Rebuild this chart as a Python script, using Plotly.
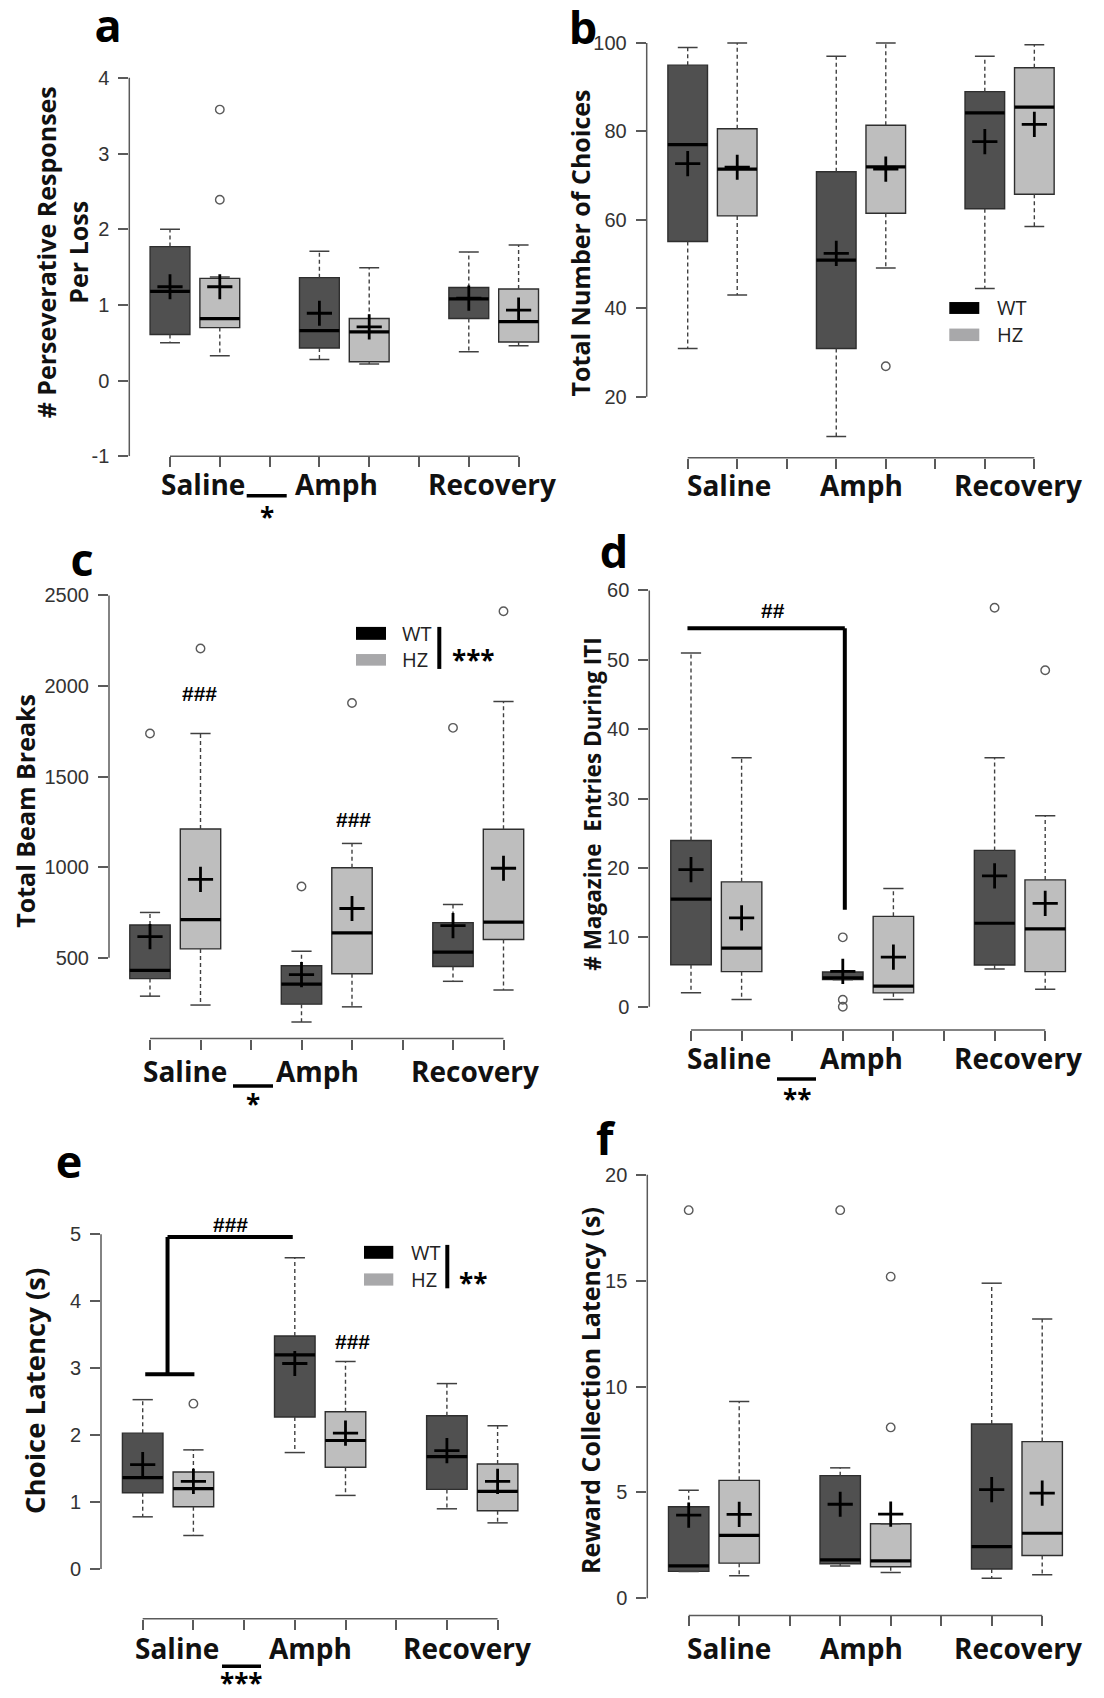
import plotly.graph_objects as go

W, H = 1104, 1698

CONDITIONS = ["Saline", "Amph", "Recovery"]
WT_POS = [1, 4, 7]
HZ_POS = [2, 5, 8]
AXIS_TICKS = [1, 2, 3, 4, 5, 6, 7, 8]

# ---- (a) perseverative responses per loss ----
A_WT_Q1 = [0.61, 0.43, 0.82]
A_WT_MED = [1.18, 0.66, 1.08]
A_WT_Q3 = [1.77, 1.36, 1.23]
A_WT_LO = [0.50, 0.28, 0.38]
A_WT_HI = [2.00, 1.71, 1.70]
A_WT_MEAN = [1.24, 0.89, 1.09]
A_WT_OUT = [[], [], []]
A_HZ_Q1 = [0.70, 0.25, 0.51]
A_HZ_MED = [0.82, 0.645, 0.78]
A_HZ_Q3 = [1.35, 0.82, 1.21]
A_HZ_LO = [0.33, 0.22, 0.46]
A_HZ_HI = [1.37, 1.49, 1.79]
A_HZ_MEAN = [1.24, 0.71, 0.93]
A_HZ_OUT = [[3.58, 2.39], [], []]
A_YTICKS = [-1, 0, 1, 2, 3, 4]

# ---- (b) total number of choices ----
B_WT_Q1 = [55.1, 30.9, 62.5]
B_WT_MED = [77.0, 50.9, 84.2]
B_WT_Q3 = [95.0, 70.9, 89.0]
B_WT_LO = [30.9, 11.0, 44.5]
B_WT_HI = [99.0, 97.0, 97.0]
B_WT_MEAN = [72.7, 52.4, 77.7]
B_WT_OUT = [[], [], []]
B_HZ_Q1 = [60.9, 61.5, 65.8]
B_HZ_MED = [71.5, 72.0, 85.5]
B_HZ_Q3 = [80.6, 81.4, 94.4]
B_HZ_LO = [43.0, 49.1, 58.5]
B_HZ_HI = [100.0, 100.0, 99.6]
B_HZ_MEAN = [71.9, 71.5, 81.6]
B_HZ_OUT = [[], [26.9], []]
B_YTICKS = [20, 40, 60, 80, 100]

# ---- (c) total beam breaks ----
C_WT_Q1 = [385, 244, 452]
C_WT_MED = [430, 354, 531]
C_WT_Q3 = [681, 456, 694]
C_WT_LO = [288, 146, 370]
C_WT_HI = [750, 536, 794]
C_WT_MEAN = [617, 407, 677]
C_WT_OUT = [[1738], [893], [1769]]
C_HZ_Q1 = [549, 412, 601]
C_HZ_MED = [710, 637, 697]
C_HZ_Q3 = [1211, 997, 1209]
C_HZ_LO = [239, 229, 322]
C_HZ_HI = [1738, 1131, 1914]
C_HZ_MEAN = [933, 772, 994]
C_HZ_OUT = [[2207], [1906], [2413]]
C_YTICKS = [500, 1000, 1500, 2000, 2500]

# ---- (d) magazine entries during ITI ----
D_WT_Q1 = [6.06, 3.9, 6.01]
D_WT_MED = [15.5, 4.15, 12.03]
D_WT_Q3 = [23.96, 5.0, 22.53]
D_WT_LO = [2.0, 3.9, 5.44]
D_WT_HI = [50.98, 5.0, 35.9]
D_WT_MEAN = [19.76, 5.1, 18.85]
D_WT_OUT = [[], [10.0, 1.0, 0.0], [57.5]]
D_HZ_Q1 = [5.06, 2.0, 5.06]
D_HZ_MED = [8.45, 2.96, 11.22]
D_HZ_Q3 = [18.0, 13.03, 18.28]
D_HZ_LO = [1.05, 1.05, 2.53]
D_HZ_HI = [35.9, 17.04, 27.54]
D_HZ_MEAN = [12.8, 7.16, 14.9]
D_HZ_OUT = [[], [], [48.5]]
D_YTICKS = [0, 10, 20, 30, 40, 50, 60]

# ---- (e) choice latency ----
E_WT_Q1 = [1.14, 2.27, 1.19]
E_WT_MED = [1.365, 3.20, 1.68]
E_WT_Q3 = [2.03, 3.48, 2.29]
E_WT_LO = [0.78, 1.74, 0.90]
E_WT_HI = [2.53, 4.65, 2.77]
E_WT_MEAN = [1.56, 3.07, 1.77]
E_WT_OUT = [[], [], []]
E_HZ_Q1 = [0.93, 1.52, 0.87]
E_HZ_MED = [1.20, 1.92, 1.16]
E_HZ_Q3 = [1.45, 2.35, 1.57]
E_HZ_LO = [0.50, 1.10, 0.69]
E_HZ_HI = [1.78, 3.10, 2.14]
E_HZ_MEAN = [1.31, 2.03, 1.31]
E_HZ_OUT = [[2.47], [], []]
E_YTICKS = [0, 1, 2, 3, 4, 5]

# ---- (f) reward collection latency ----
F_WT_Q1 = [1.27, 1.63, 1.38]
F_WT_MED = [1.53, 1.81, 2.44]
F_WT_Q3 = [4.32, 5.79, 8.23]
F_WT_LO = [1.27, 1.53, 0.95]
F_WT_HI = [5.10, 6.16, 14.88]
F_WT_MEAN = [3.93, 4.44, 5.13]
F_WT_OUT = [[18.33], [18.33], []]
F_HZ_Q1 = [1.66, 1.49, 2.02]
F_HZ_MED = [2.97, 1.77, 3.07]
F_HZ_Q3 = [5.57, 3.52, 7.40]
F_HZ_LO = [1.06, 1.22, 1.11]
F_HZ_HI = [9.29, 3.52, 13.19]
F_HZ_MEAN = [3.96, 3.97, 4.97]
F_HZ_OUT = [[], [15.19, 8.07], []]
F_YTICKS = [0, 5, 10, 15, 20]

# ---- styling ----
WT_FILL = "#505050"
HZ_FILL = "#bebebe"
EDGE = "#2e2e2e"
AXIS_COLOR = "#5a5a5a"
WHISKER_COLOR = "#404040"
OUTLIER_COLOR = "#5a5a5a"
BOX_W = 0.8
CAP_W = 0.4
TEXT_FONT = "Open Sans"
TICK_FONT = "Liberation Sans"


def stats(q1, med, q3, lo, hi, mean, out):
    return dict(q1=q1, med=med, q3=q3, lo=lo, hi=hi, mean=mean, out=out)


# pixel geometry of each panel: first tick x, px per slot, two y reference ticks,
# y-axis x position, x-axis y position, top of plot area
PANELS = [
    dict(letter="a", letter_xy=(108, 24),
         title="# Perseverative Responses<br>Per Loss", title_xy=(62, 254), title_size=25,
         wt=stats(A_WT_Q1, A_WT_MED, A_WT_Q3, A_WT_LO, A_WT_HI, A_WT_MEAN, A_WT_OUT),
         hz=stats(A_HZ_Q1, A_HZ_MED, A_HZ_Q3, A_HZ_LO, A_HZ_HI, A_HZ_MEAN, A_HZ_OUT),
         yticks=A_YTICKS,
         x1=170, dx=49.8, ref_a=(4, 78.3), ref_b=(-1, 459.3), yaxis_px=129.3, xaxis_px=459.3, top_px=55,
         labels_x=(203, 336, 492), labels_y=487.5),
    dict(letter="b", letter_xy=(583, 26),
         title="Total Number of Choices", title_xy=(580, 245), title_size=25,
         wt=stats(B_WT_Q1, B_WT_MED, B_WT_Q3, B_WT_LO, B_WT_HI, B_WT_MEAN, B_WT_OUT),
         hz=stats(B_HZ_Q1, B_HZ_MED, B_HZ_Q3, B_HZ_LO, B_HZ_HI, B_HZ_MEAN, B_HZ_OUT),
         yticks=B_YTICKS,
         x1=687.7, dx=49.52, ref_a=(100, 43.3), ref_b=(20, 399.3), yaxis_px=646.7, xaxis_px=460.7, top_px=30,
         labels_x=(729, 861, 1018), labels_y=488.6),
    dict(letter="c", letter_xy=(82, 562),
         title="Total Beam Breaks", title_xy=(25, 816), title_size=25,
         wt=stats(C_WT_Q1, C_WT_MED, C_WT_Q3, C_WT_LO, C_WT_HI, C_WT_MEAN, C_WT_OUT),
         hz=stats(C_HZ_Q1, C_HZ_MED, C_HZ_Q3, C_HZ_LO, C_HZ_HI, C_HZ_MEAN, C_HZ_OUT),
         yticks=C_YTICKS,
         x1=150, dx=50.5, ref_a=(2500, 599.3), ref_b=(500, 964), yaxis_px=109, xaxis_px=1045.3, top_px=585,
         labels_x=(185, 317.5, 474.5), labels_y=1078),
    dict(letter="d", letter_xy=(614, 554),
         title="# Magazine\u00a0\u00a0Entries During ITI", title_xy=(593, 810), title_size=22.5,
         wt=stats(D_WT_Q1, D_WT_MED, D_WT_Q3, D_WT_LO, D_WT_HI, D_WT_MEAN, D_WT_OUT),
         hz=stats(D_HZ_Q1, D_HZ_MED, D_HZ_Q3, D_HZ_LO, D_HZ_HI, D_HZ_MEAN, D_HZ_OUT),
         yticks=D_YTICKS,
         x1=691, dx=50.6, ref_a=(60, 594.3), ref_b=(0, 1013.3), yaxis_px=649.3, xaxis_px=1036.6, top_px=580,
         labels_x=(729, 861, 1018), labels_y=1065),
    dict(letter="e", letter_xy=(69, 1168),
         title="Choice Latency (s)", title_xy=(35, 1400), title_size=27.5,
         wt=stats(E_WT_Q1, E_WT_MED, E_WT_Q3, E_WT_LO, E_WT_HI, E_WT_MEAN, E_WT_OUT),
         hz=stats(E_HZ_Q1, E_HZ_MED, E_HZ_Q3, E_HZ_LO, E_HZ_HI, E_HZ_MEAN, E_HZ_OUT),
         yticks=E_YTICKS,
         x1=142.7, dx=50.7, ref_a=(5, 1242.3), ref_b=(0, 1579.3), yaxis_px=101, xaxis_px=1629.3, top_px=1225,
         labels_x=(176.5, 310, 467), labels_y=1659),
    dict(letter="f", letter_xy=(606, 1144),
         title="Reward Collection Latency (s)", title_xy=(590, 1400), title_size=25,
         wt=stats(F_WT_Q1, F_WT_MED, F_WT_Q3, F_WT_LO, F_WT_HI, F_WT_MEAN, F_WT_OUT),
         hz=stats(F_HZ_Q1, F_HZ_MED, F_HZ_Q3, F_HZ_LO, F_HZ_HI, F_HZ_MEAN, F_HZ_OUT),
         yticks=F_YTICKS,
         x1=688.7, dx=50.5, ref_a=(15, 1289), ref_b=(0, 1608.7), yaxis_px=647.3, xaxis_px=1626, top_px=1170,
         labels_x=(729, 861, 1018), labels_y=1659),
]


def px_x(px):
    return px / W


def px_y(py):
    return 1 - py / H


def box_group(pos, s, fill, xa, ya):
    """Box, dashed whiskers, caps, median bar, mean cross and outliers for one genotype."""
    traces = [go.Box(
        x=pos, q1=s["q1"], median=s["med"], q3=s["q3"],
        lowerfence=s["q1"], upperfence=s["q3"], orientation="v",
        width=BOX_W, fillcolor=fill, line=dict(color=EDGE, width=1.4),
        whiskerwidth=0, boxpoints=False, hoverinfo="skip", showlegend=False,
        xaxis=xa, yaxis=ya)]
    wx, wy, cx, cy, mx, my = [], [], [], [], [], []
    for p, q1, q3, lo, hi, md in zip(pos, s["q1"], s["q3"], s["lo"], s["hi"], s["med"]):
        wx += [p, p, None, p, p, None]
        wy += [q3, hi, None, q1, lo, None]
        cx += [p - CAP_W / 2, p + CAP_W / 2, None, p - CAP_W / 2, p + CAP_W / 2, None]
        cy += [hi, hi, None, lo, lo, None]
        mx += [p - BOX_W / 2, p + BOX_W / 2, None]
        my += [md, md, None]
    traces.append(go.Scatter(x=wx, y=wy, mode="lines", xaxis=xa, yaxis=ya,
                             line=dict(color=WHISKER_COLOR, width=1.4, dash="4px,3px"),
                             hoverinfo="skip", showlegend=False))
    traces.append(go.Scatter(x=cx, y=cy, mode="lines", xaxis=xa, yaxis=ya,
                             line=dict(color=WHISKER_COLOR, width=1.5),
                             hoverinfo="skip", showlegend=False))
    traces.append(go.Scatter(x=mx, y=my, mode="lines", xaxis=xa, yaxis=ya,
                             line=dict(color="black", width=3.2),
                             hoverinfo="skip", showlegend=False))
    traces.append(go.Scatter(x=pos, y=s["mean"], mode="markers", xaxis=xa, yaxis=ya,
                             marker=dict(symbol="cross-thin", size=18, color="black",
                                         line=dict(color="black", width=2.8)),
                             hoverinfo="skip", showlegend=False))
    ox, oy = [], []
    for p, vals in zip(pos, s["out"]):
        ox += [p] * len(vals)
        oy += vals
    if ox:
        traces.append(go.Scatter(x=ox, y=oy, mode="markers", xaxis=xa, yaxis=ya,
                                 marker=dict(symbol="circle-open", size=8.5, color=OUTLIER_COLOR,
                                             line=dict(color=OUTLIER_COLOR, width=1.4)),
                                 hoverinfo="skip", showlegend=False, cliponaxis=False))
    return traces


fig = go.Figure()
shapes, annotations = [], []
axes_layout = {}

for i, p in enumerate(PANELS, start=1):
    xa = "x" if i == 1 else f"x{i}"
    ya = "y" if i == 1 else f"y{i}"
    (va, pa), (vb, pb) = p["ref_a"], p["ref_b"]
    dy = (pb - pa) / (va - vb)
    right_px = p["x1"] + 7.7 * p["dx"]
    x_lo = 1 + (p["yaxis_px"] - p["x1"]) / p["dx"]
    x_hi = 1 + (right_px - p["x1"]) / p["dx"]
    y_lo = vb - (p["xaxis_px"] - pb) / dy
    y_hi = va + (pa - p["top_px"]) / dy

    axes_layout["xaxis" if i == 1 else f"xaxis{i}"] = dict(
        domain=[px_x(p["yaxis_px"]), px_x(right_px)], range=[x_lo, x_hi], anchor=ya,
        tickvals=AXIS_TICKS, showticklabels=False, ticks="outside", ticklen=10,
        tickwidth=1.5, tickcolor=AXIS_COLOR, showgrid=False, zeroline=False,
        showline=False, fixedrange=True)
    axes_layout["yaxis" if i == 1 else f"yaxis{i}"] = dict(
        domain=[px_y(p["xaxis_px"]), px_y(p["top_px"])], range=[y_lo, y_hi], anchor=xa,
        tickvals=p["yticks"], ticktext=[str(v) for v in p["yticks"]],
        ticks="outside", ticklen=10, tickwidth=1.5, tickcolor=AXIS_COLOR,
        tickfont=dict(family=TICK_FONT, size=20, color="#333333"), ticklabelstandoff=5,
        showgrid=False, zeroline=False, showline=False, fixedrange=True)

    # R-style axis lines spanning only the tick range
    shapes.append(dict(type="line", xref=f"{xa} domain", x0=0, x1=0, yref=ya,
                       y0=min(p["yticks"]), y1=max(p["yticks"]),
                       line=dict(color=AXIS_COLOR, width=1.5)))
    shapes.append(dict(type="line", xref=xa, x0=AXIS_TICKS[0], x1=AXIS_TICKS[-1],
                       yref=f"{ya} domain", y0=0, y1=0,
                       line=dict(color=AXIS_COLOR, width=1.5)))

    for tr in box_group(WT_POS, p["wt"], WT_FILL, xa, ya):
        fig.add_trace(tr)
    for tr in box_group(HZ_POS, p["hz"], HZ_FILL, xa, ya):
        fig.add_trace(tr)

    # panel letter, axis title and condition labels
    lx, ly = p["letter_xy"]
    annotations.append(dict(text=f"<b>{p['letter']}</b>", x=px_x(lx), y=px_y(ly), xref="paper", yref="paper",
                            xanchor="center", yanchor="middle", showarrow=False, height=40, width=30,
                            font=dict(family=TEXT_FONT, size=45, color="black")))
    tx, ty = p["title_xy"]
    annotations.append(dict(text=p["title"], x=px_x(tx), y=px_y(ty), xref="paper", yref="paper",
                            xanchor="center", yanchor="middle", showarrow=False, textangle=-90,
                            font=dict(family=TEXT_FONT, size=p["title_size"], color="#111111", weight=700)))
    for name, cx in zip(CONDITIONS, p["labels_x"]):
        annotations.append(dict(text=name, x=px_x(cx), y=px_y(p["labels_y"]), xref="paper", yref="paper",
                                xanchor="center", yanchor="middle", showarrow=False,
                                font=dict(family=TEXT_FONT, size=28, color="#111111", weight=700)))

# main drug effect between Saline and Amph: bar with stars beneath
DRUG_EFFECT = [  # (x from, x to, bar y, stars, stars y)
    (246.7, 286.7, 499, "*", 520),
    (233, 273, 1093, "*", 1111),
    (777, 816, 1086, "**", 1106),
    (222, 261, 1677, "***", 1694),
]
for x0, x1, yb, stars, ys in DRUG_EFFECT:
    shapes.append(dict(type="line", xref="paper", yref="paper", x0=px_x(x0), x1=px_x(x1),
                       y0=px_y(yb), y1=px_y(yb), line=dict(color="black", width=3.5)))
    annotations.append(dict(text=stars, x=px_x((x0 + x1) / 2), y=px_y(ys), xref="paper", yref="paper",
                            xanchor="center", yanchor="middle", showarrow=False,
                            font=dict(family=TEXT_FONT, size=26, color="black", weight=700)))

# legends (WT / HZ swatches) in panels b, c, e
LEGENDS = [  # swatch x0, x1, WT y0, y1, HZ y0, y1, text x, genotype marker (bar x, y0, y1, stars, stars x, y)
    (949.3, 979.3, 304, 316, 330.7, 343.3, 995, None),
    (356, 386, 631, 644, 658.3, 670, 400.5, (439.3, 631, 673.3, "***", 473, 664)),
    (364, 393.3, 1254, 1267, 1281.7, 1294, 408.5, (447.3, 1253, 1296.7, "**", 472.5, 1291)),
]
for sx0, sx1, wy0, wy1, hy0, hy1, tx, gmark in LEGENDS:
    shapes.append(dict(type="rect", xref="paper", yref="paper", x0=px_x(sx0), x1=px_x(sx1),
                       y0=px_y(wy1), y1=px_y(wy0), fillcolor="black", line=dict(width=0)))
    shapes.append(dict(type="rect", xref="paper", yref="paper", x0=px_x(sx0), x1=px_x(sx1),
                       y0=px_y(hy1), y1=px_y(hy0), fillcolor="#a8a8aa", line=dict(width=0)))
    for label, y0, y1 in (("WT", wy0, wy1), ("HZ", hy0, hy1)):
        annotations.append(dict(text=label, x=px_x(tx), y=px_y((y0 + y1) / 2), xref="paper", yref="paper",
                                xanchor="left", yanchor="middle", showarrow=False,
                                font=dict(family=TEXT_FONT, size=20, color="#222222")))
    if gmark:
        bx, by0, by1, stars, stx, sty = gmark
        shapes.append(dict(type="line", xref="paper", yref="paper", x0=px_x(bx), x1=px_x(bx),
                           y0=px_y(by0), y1=px_y(by1), line=dict(color="black", width=4)))
        annotations.append(dict(text=stars, x=px_x(stx), y=px_y(sty), xref="paper", yref="paper",
                                xanchor="center", yanchor="middle", showarrow=False,
                                font=dict(family=TEXT_FONT, size=26, color="black", weight=700)))

# post-hoc comparison brackets (data coordinates)
D_BRACKET = [((0.93, 54.56), (4.04, 54.56)), ((4.04, 54.56), (4.04, 13.98))]
E_BRACKET = [((1.49, 4.96), (3.96, 4.96)), ((1.49, 4.96), (1.49, 2.91)), ((1.05, 2.91), (2.02, 2.91))]
for axis_id, segs in (("4", D_BRACKET), ("5", E_BRACKET)):
    for (x0, y0), (x1, y1) in segs:
        shapes.append(dict(type="line", xref=f"x{axis_id}", yref=f"y{axis_id}", x0=x0, x1=x1, y0=y0, y1=y1,
                           line=dict(color="black", width=4)))

HASH_MARKS = [  # axis id, x position, y value, text
    ("3", 1.98, 1957, "###"),
    ("3", 5.02, 1262, "###"),
    ("4", 2.63, 57.1, "##"),
    ("5", 2.74, 5.14, "###"),
    ("5", 5.13, 3.40, "###"),
]
for axis_id, hx, hy, txt in HASH_MARKS:
    annotations.append(dict(text=txt, x=hx, y=hy, xref=f"x{axis_id}", yref=f"y{axis_id}",
                            xanchor="center", yanchor="middle", showarrow=False,
                            font=dict(family=TICK_FONT, size=21, color="black", weight=700)))

fig.update_layout(
    width=W, height=H, margin=dict(l=0, r=0, t=0, b=0),
    paper_bgcolor="white", plot_bgcolor="white", showlegend=False,
    shapes=shapes, annotations=annotations, **axes_layout)

fig.write_html("out.html")
